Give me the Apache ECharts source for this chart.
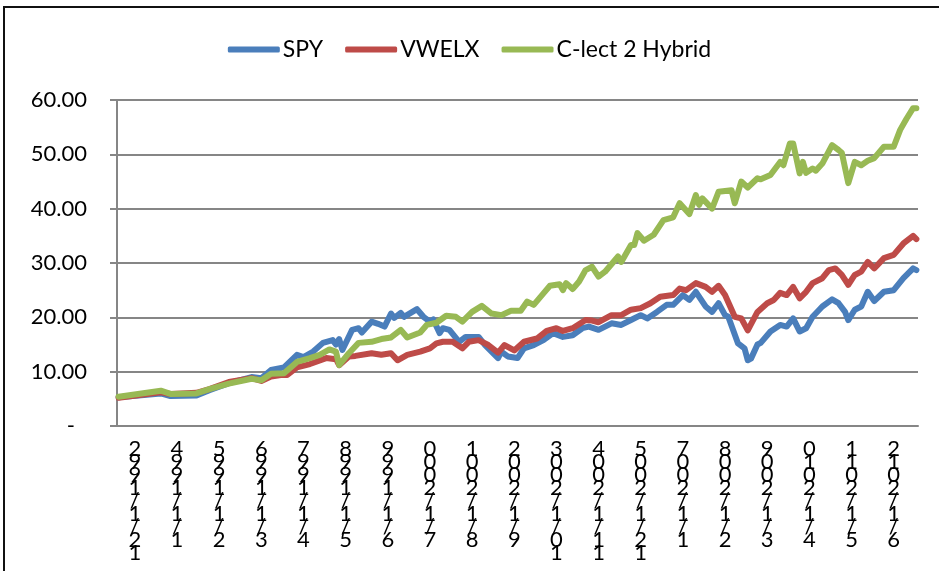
<!DOCTYPE html>
<html>
<head>
<meta charset="utf-8">
<script src="https://cdn.jsdelivr.net/npm/echarts@6/dist/echarts.min.js"></script>
<style>
  html, body { margin: 0; padding: 0; background: #fff; }
  #chart { position: absolute; left: 0; top: 0; width: 939px; height: 571px; }
  #frame {
    position: absolute; left: 3px; top: 6px; width: 936px; height: 565px;
    border-top: 2px solid #111; border-left: 2px solid #111; pointer-events: none;
  }
</style>
</head>
<body>
<div id="chart"></div>
<div id="frame"></div>
<script>
// monthly categories, 12/1/1992 .. 6/1/2013
const monthCount = 247
const months = Array.from({ length: monthCount }, (_, i) => {
  const m = (11 + i) % 12 + 1
  const y = 1992 + Math.floor((11 + i) / 12)
  return m + '/1/' + y
})

// every 13th month is labelled
const tickLabels = ['12/1/1992', '1/1/1994', '2/1/1995', '3/1/1996', '4/1/1997', '5/1/1998',
  '6/1/1999', '7/1/2000', '8/1/2001', '9/1/2002', '10/1/2003', '11/1/2004', '12/1/2005',
  '1/1/2007', '2/1/2008', '3/1/2009', '4/1/2010', '5/1/2011', '6/1/2012']

const yTicks = [0, 10, 20, 30, 40, 50, 60]

// [month index, value]
const spy = [
  [0, 5.3], [13, 6.0], [16, 5.5], [24, 5.6], [28, 6.6], [34, 7.9], [41, 9.0], [44, 8.8],
  [47, 10.3], [51, 10.8], [55, 13.1], [57, 12.7], [60, 13.7], [63, 15.3], [66, 15.8],
  [67, 15.0], [68, 16.0], [69, 14.0], [72, 17.7], [74, 18.0], [75, 17.2], [78, 19.2],
  [80, 18.8], [82, 18.3], [84, 20.7], [85, 19.9], [87, 20.8], [88, 20.1], [92, 21.5],
  [94, 20.1], [96, 19.2], [97, 19.6], [99, 17.1], [100, 18.0], [102, 17.7], [105, 15.5],
  [107, 16.4], [111, 16.4], [113, 14.9], [117, 12.5], [118, 13.7], [120, 12.8], [123, 12.5],
  [125, 14.3], [128, 14.9], [131, 15.8], [134, 17.1], [137, 16.4], [140, 16.7], [143, 18.0],
  [145, 18.3], [148, 17.7], [152, 18.9], [155, 18.6], [158, 19.5], [161, 20.4], [163, 19.8],
  [166, 21.0], [169, 22.3], [171, 22.3], [174, 24.1], [176, 23.2], [178, 24.7], [181, 22.0],
  [183, 21.0], [185, 22.6], [187, 20.4], [188, 20.1], [191, 15.2], [193, 14.3], [194, 12.1],
  [195, 12.4], [197, 15.0], [198, 15.3], [201, 17.4], [204, 18.6], [206, 18.3], [208, 19.8],
  [210, 17.4], [212, 18.0], [214, 20.1], [217, 22.0], [220, 23.3], [222, 22.6], [224, 21.0],
  [225, 19.5], [227, 21.4], [229, 22.0], [231, 24.7], [233, 23.0], [236, 24.7], [239, 25.0],
  [242, 27.2], [245, 29.0], [246, 28.7]
]

const vwelx = [
  [0, 5.2], [13, 6.2], [16, 5.9], [24, 6.1], [28, 6.8], [34, 8.1], [41, 8.8], [44, 8.3],
  [47, 9.1], [50, 9.4], [52, 9.4], [55, 10.8], [59, 11.4], [64, 12.5], [67, 12.3], [68, 11.2],
  [71, 12.8], [73, 12.9], [78, 13.4], [81, 13.1], [84, 13.4], [86, 12.1], [89, 13.1],
  [93, 13.7], [96, 14.3], [98, 15.2], [100, 15.5], [103, 15.5], [106, 14.3], [108, 15.5],
  [111, 15.8], [114, 14.9], [117, 13.5], [119, 14.9], [122, 13.9], [125, 15.5], [129, 16.1],
  [132, 17.5], [135, 18.0], [137, 17.5], [140, 18.0], [144, 19.5], [146, 19.4], [148, 19.1],
  [152, 20.4], [155, 20.4], [158, 21.4], [161, 21.7], [164, 22.6], [167, 23.8], [171, 24.1],
  [173, 25.3], [175, 25.0], [178, 26.3], [181, 25.6], [183, 24.7], [185, 25.8], [187, 24.1],
  [190, 20.1], [192, 19.8], [194, 17.6], [197, 21.0], [200, 22.6], [202, 23.2], [204, 24.5],
  [206, 24.1], [208, 25.6], [210, 23.5], [212, 24.7], [214, 26.3], [217, 27.2], [219, 28.7],
  [221, 29.0], [223, 27.8], [225, 26.0], [227, 27.8], [229, 28.4], [231, 30.2], [233, 29.0],
  [236, 30.9], [239, 31.5], [242, 33.6], [245, 35.0], [246, 34.4]
]

const hybrid = [
  [0, 5.4], [13, 6.5], [16, 5.9], [24, 6.0], [28, 6.8], [34, 7.8], [41, 8.7], [44, 8.4],
  [47, 9.6], [51, 9.7], [55, 11.8], [59, 12.5], [62, 13.1], [65, 14.1], [67, 13.7], [68, 11.2],
  [71, 13.4], [74, 15.3], [78, 15.5], [81, 16.0], [84, 16.3], [87, 17.7], [89, 16.3],
  [93, 17.2], [95, 18.6], [98, 19.0], [101, 20.3], [104, 20.1], [106, 19.2], [109, 21.0],
  [112, 22.1], [115, 20.7], [118, 20.4], [121, 21.2], [124, 21.2], [126, 22.9], [128, 22.3],
  [131, 24.4], [133, 25.8], [136, 26.1], [137, 25.0], [138, 26.3], [140, 25.2], [142, 26.6],
  [144, 28.7], [146, 29.3], [148, 27.5], [150, 28.4], [154, 31.2], [155, 30.2], [158, 33.3],
  [159, 33.3], [160, 35.5], [162, 34.1], [165, 35.2], [168, 37.9], [171, 38.4], [173, 41.0],
  [176, 39.0], [178, 42.5], [179, 40.7], [180, 41.9], [183, 40.0], [185, 43.1], [189, 43.4],
  [190, 41.0], [192, 45.0], [194, 43.9], [197, 45.6], [198, 45.4], [201, 46.2], [204, 48.6],
  [205, 48.0], [207, 52.0], [208, 52.0], [210, 46.5], [211, 48.6], [212, 46.6], [214, 47.4],
  [215, 47.0], [217, 48.3], [220, 51.7], [222, 50.8], [223, 50.3], [225, 44.7], [227, 48.6],
  [229, 48.0], [231, 48.8], [233, 49.3], [236, 51.4], [239, 51.4], [241, 54.5], [243, 56.6],
  [245, 58.5], [246, 58.5]
]

const names = ['SPY', 'VWELX', 'C-lect 2 Hybrid']
const colors = ['#4a7ebb', '#be4b48', '#98b954']
const font = 'Lato, "Noto Sans", sans-serif'

// labels sit inside each 13-month span, drawn upside-down like the source
const labelOffset = 5
const stack = (s) => s.split('').reverse().join('\n')

const chart = echarts.init(document.getElementById('chart'))

const option = {
  animation: false,
  color: colors,
  textStyle: { fontFamily: font, color: '#000' },
  legend: {
    data: names,
    top: 33,
    left: 'center',
    icon: 'roundRect',
    itemWidth: 52,
    itemHeight: 6,
    itemGap: 22,
    textStyle: { fontSize: 23, color: '#000', padding: [0, 0, 0, -2] }
  },
  grid: { left: 117, right: 21, top: 100, bottom: 145 },
  xAxis: {
    type: 'category',
    data: months,
    boundaryGap: true,
    axisLine: { lineStyle: { color: '#868686', width: 2 } },
    axisTick: { interval: 12, length: 7, lineStyle: { color: '#868686', width: 2 } },
    axisLabel: {
      interval: (index) => index % 13 === labelOffset,
      formatter: (value, index) => stack(tickLabels[(index - labelOffset) / 13] || ''),
      fontSize: 22,
      lineHeight: 13,
      margin: 16,
      color: '#000'
    },
    splitLine: { show: false }
  },
  yAxis: {
    type: 'value',
    min: yTicks[0],
    max: yTicks[yTicks.length - 1],
    interval: 10,
    axisLine: { show: true, lineStyle: { color: '#868686', width: 2 } },
    axisTick: { show: true, length: 7, lineStyle: { color: '#868686', width: 2 } },
    splitLine: { lineStyle: { color: '#868686', width: 2 } },
    axisLabel: {
      fontSize: 22,
      margin: 30,
      color: '#000',
      formatter: (v) => v === 0 ? '{d|-}' : v.toFixed(2),
      rich: { d: { fontSize: 22, padding: [0, 12, 0, 0] } }
    }
  },
  series: [spy, vwelx, hybrid].map((d, i) => ({
    name: names[i],
    type: 'line',
    data: d,
    symbol: 'none',
    lineStyle: { width: 6, color: colors[i], join: 'round', cap: 'round' },
    itemStyle: { color: colors[i] }
  }))
}

chart.setOption(option)
</script>
</body>
</html>
